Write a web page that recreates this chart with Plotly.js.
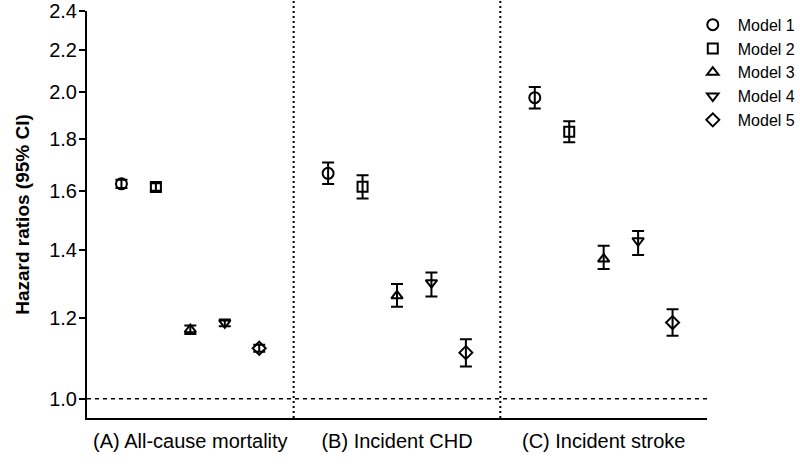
<!DOCTYPE html>
<html>
<head>
<meta charset="utf-8">
<script src="https://cdn.plot.ly/plotly-3.0.1.min.js"></script>
<style>html,body{margin:0;padding:0;background:#fff;}#chart{width:800px;height:464px;}</style>
</head>
<body>
<div id="chart"></div>
<script>
// Outcome groups and their tick labels
const groupLabels = ["(A) All-cause mortality", "(B) Incident CHD", "(C) Incident stroke"];
const groupCenters = [3, 9, 15];
const modelNames = ["Model 1", "Model 2", "Model 3", "Model 4", "Model 5"];
// x positions of each model inside each group
const xModel1 = [1, 7, 13];
const xModel2 = [2, 8, 14];
const xModel3 = [3, 9, 15];
const xModel4 = [4, 10, 16];
const xModel5 = [5, 11, 17];
// Hazard ratios per model across groups A, B, C
const hrModel1 = [1.625, 1.664, 1.974];
const hrModel2 = [1.613, 1.614, 1.828];
const hrModel3 = [1.169, 1.262, 1.371];
const hrModel4 = [1.187, 1.300, 1.429];
const hrModel5 = [1.121, 1.110, 1.188];
// Upper 95% CI
const upModel1 = [1.640, 1.705, 2.022];
const upModel2 = [1.627, 1.657, 1.872];
const upModel3 = [1.180, 1.296, 1.413];
const upModel4 = [1.196, 1.330, 1.461];
const upModel5 = [1.130, 1.144, 1.224];
// Lower 95% CI
const loModel1 = [1.610, 1.624, 1.926];
const loModel2 = [1.600, 1.572, 1.785];
const loModel3 = [1.158, 1.231, 1.341];
const loModel4 = [1.178, 1.260, 1.384];
const loModel5 = [1.112, 1.076, 1.153];
const yTicks = [1.0, 1.2, 1.4, 1.6, 1.8, 2.0, 2.2, 2.4];
const refLine = 1.0;
const separators = [6, 12];

const xs = [xModel1, xModel2, xModel3, xModel4, xModel5];
const hrs = [hrModel1, hrModel2, hrModel3, hrModel4, hrModel5];
const ups = [upModel1, upModel2, upModel3, upModel4, upModel5];
const los = [loModel1, loModel2, loModel3, loModel4, loModel5];
const symbols = ["circle-open", "square-open", "triangle-up-open", "triangle-down-open", "diamond-open"];
const sizes = [11, 10, 10, 10, 10];

const traces = modelNames.map((name, i) => ({
  type: "scatter",
  mode: "markers",
  name: name,
  x: xs[i],
  y: hrs[i],
  error_y: {
    type: "data",
    symmetric: false,
    array: hrs[i].map((v, j) => ups[i][j] - v),
    arrayminus: hrs[i].map((v, j) => v - los[i][j]),
    color: "#000",
    thickness: 2,
    width: 6
  },
  marker: {symbol: symbols[i], size: sizes[i], color: "#000", line: {width: 2, color: "#000"}},
  cliponaxis: false
}));

const shapes = [
  {type: "line", xref: "paper", yref: "y", x0: 0, x1: 1, y0: refLine, y1: refLine,
   line: {color: "#000", width: 1.5, dash: "4px,4px"}},
].concat(separators.map(s => ({
  type: "line", xref: "x", yref: "paper", x0: s, x1: s, y0: 0, y1: 1.027,
  line: {color: "#000", width: 2, dash: "2px,3px"}
})));

const layout = {
  width: 800, height: 464,
  margin: {l: 87, r: 93, t: 11, b: 46, autoexpand: false},
  paper_bgcolor: "#fff", plot_bgcolor: "#fff",
  font: {family: "Liberation Sans, Arial, sans-serif", color: "#000"},
  showlegend: true,
  legend: {x: 0.969, xanchor: "left", y: 1.008, yanchor: "top", itemwidth: 40,
           font: {size: 16, color: "#000"}, bgcolor: "rgba(0,0,0,0)"},
  xaxis: {
    range: [0, 18], showgrid: false, zeroline: false,
    showline: true, linecolor: "#000", linewidth: 2,
    tickmode: "array", tickvals: groupCenters, ticktext: groupLabels,
    ticks: "", ticklabelstandoff: 4, tickfont: {size: 20, color: "#000"}
  },
  yaxis: {
    type: "log", range: [Math.log10(0.9577), Math.log10(2.4005)],
    showgrid: false, zeroline: false,
    showline: true, linecolor: "#000", linewidth: 2,
    tickmode: "array", tickvals: yTicks, ticktext: yTicks.map(v => v.toFixed(1)),
    ticks: "outside", ticklen: 6, tickwidth: 2, tickcolor: "#000",
    ticklabelstandoff: -2, ticklabeloverflow: "allow",
    tickfont: {size: 20, color: "#000"},
    title: {text: "<b>Hazard ratios (95% CI)</b>", font: {size: 19, color: "#000"}, standoff: 15}
  },
  shapes: shapes
};

Plotly.newPlot("chart", traces, layout, {displayModeBar: false, staticPlot: true});
</script>
</body>
</html>
